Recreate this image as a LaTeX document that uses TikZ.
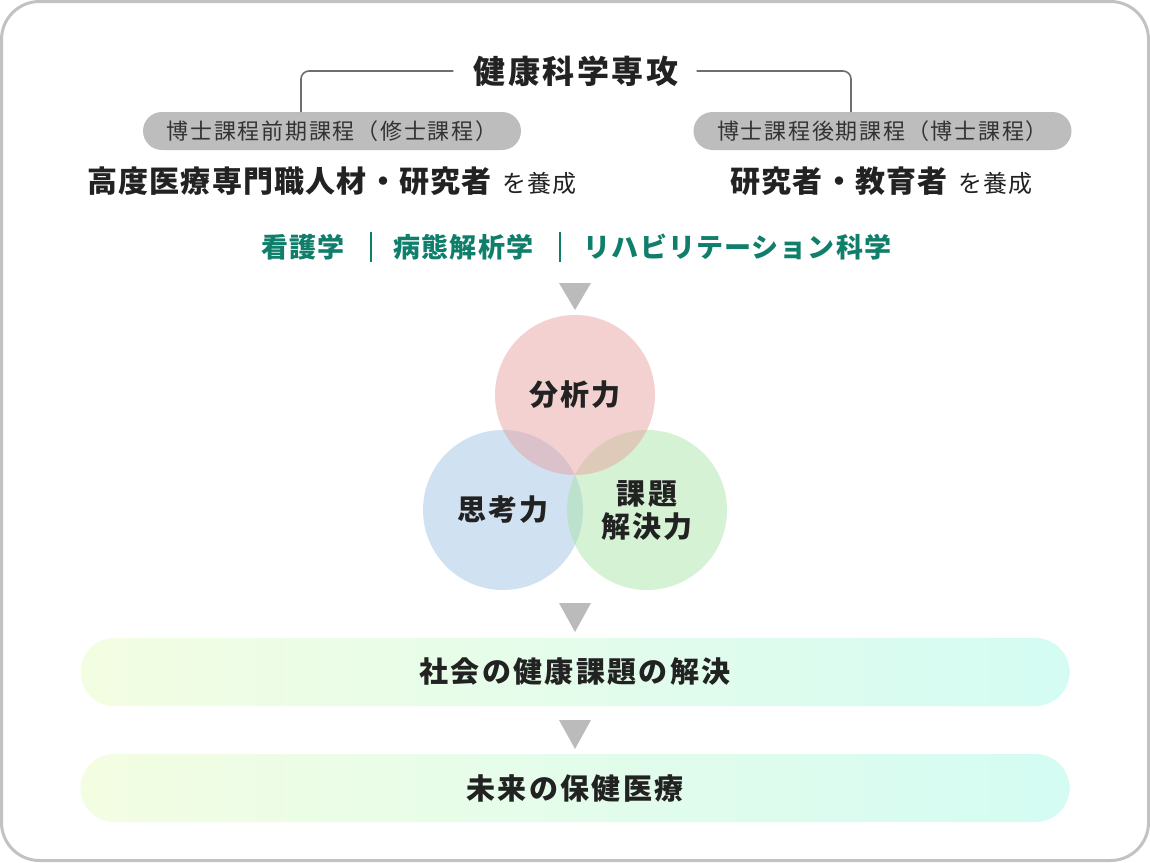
\documentclass[tikz,border=0pt]{standalone}
\usepackage{fontspec}
\setmainfont{Noto Sans CJK JP}
\newfontfamily\cjkls[LetterSpace=8]{Noto Sans CJK JP}
\newfontfamily\cjkln[LetterSpace=4]{Noto Sans CJK JP}
\definecolor{framec}{HTML}{C2C2C2}
\definecolor{linec}{HTML}{6E6E6E}
\definecolor{pillc}{HTML}{BDBDBD}
\definecolor{pilltext}{HTML}{333333}
\definecolor{textc}{HTML}{222222}
\definecolor{tealc}{HTML}{0F7F6B}
\definecolor{arrowc}{HTML}{BBBBBB}
\definecolor{cred}{RGB}{232,154,154}
\definecolor{cblue}{RGB}{151,191,227}
\definecolor{cgreen}{RGB}{164,227,160}
\definecolor{barl}{HTML}{F3FDE2}
\definecolor{barr}{HTML}{D4FCF3}
\newcommand{\fsz}[1]{\fontsize{#1}{#1}\selectfont}
\tikzset{
  pill/.style={fill=pillc, rounded corners=19pt, minimum width=378pt, minimum height=38pt, inner sep=0pt, text=pilltext, font=\cjkls\fsz{22}},
  bracket/.style={draw=linec, line width=1.6pt, rounded corners=8pt},
  circ/.style={circle, minimum size=160pt, inner sep=0pt, fill opacity=0.45, text opacity=1, text=textc, font=\cjkls\bfseries\fsz{29}, align=center},
  bar/.style={rounded corners=34pt, minimum width=989pt, minimum height=68pt, inner sep=0pt, left color=barl, right color=barr, text=textc, font=\cjkls\bfseries\fsz{29}},
  tri/.style={fill=arrowc},
  field/.style={text=tealc, font=\cjkln\bfseries\fsz{27}, inner sep=0pt},
  sep/.style={draw=tealc, line width=1.5pt}
}
\begin{document}
\begin{tikzpicture}[x=1pt,y=-1pt]
\useasboundingbox (0,0) rectangle (1150,862);
\fill[white] (0,0) rectangle (1150,862);
\draw[framec, line width=3pt, rounded corners=38pt] (1.5,1.5) rectangle (1148.5,860.5);

% title and bracket
\node[text=textc, font=\cjkls\bfseries\fsz{32}, inner sep=0pt] (ttl) at (576,71) {健康科学専攻};
\node[pill] (lp) at (332,131) {博士課程前期課程（修士課程）};
\node[pill] (rp) at (882.5,131) {博士課程後期課程（博士課程）};
\coordinate (lk) at (301,112);
\coordinate (rk) at (851,112);
\draw[bracket] ([xshift=-20pt]ttl.west) -| (lk);
\draw[bracket] ([xshift=18pt]ttl.east) -| (rk);

\node[text=textc, inner sep=0pt] (lt) at (332,181) {{\cjkln\bfseries\fsz{30}高度医療専門職人材・研究者}\hspace{11pt}{\cjkln\fsz{24}を養成}};
\node[text=textc, inner sep=0pt] (rt) at (881.5,181) {{\cjkln\bfseries\fsz{30}研究者・教育者}\hspace{11pt}{\cjkln\fsz{24}を養成}};

% fields
\node[field] (f1) at (303,247) {看護学};
\node[field] (f2) at (463.5,247) {病態解析学};
\node[field] (f3) at (737.5,247) {リハビリテーション科学};
\coordinate (s1t) at (371,232); \coordinate (s1b) at (371,262);
\coordinate (s2t) at (560,232); \coordinate (s2b) at (560,262);
\draw[sep] (s1t) -- (s1b);
\draw[sep] (s2t) -- (s2b);

% arrow 1
\fill[tri] (559,283) -- (591,283) -- (575,310) -- cycle;

% circles
\node[circ, fill=cblue] (cb) at (503,510) {思考力};
\node[circ, fill=cgreen] (cg) at (647,510) {課題\\[4pt]解決力};
\node[circ, fill=cred] (cr) at (575,395) {分析力};

% arrow 2
\fill[tri] (559,603) -- (591,603) -- (575,632) -- cycle;

% bars
\node[bar] (b1) at (575,672) {社会の健康課題の解決};
\fill[tri] (559,720) -- (591,720) -- (575,749) -- cycle;
\node[bar] (b2) at (575,788) {未来の保健医療};
\end{tikzpicture}
\end{document}
